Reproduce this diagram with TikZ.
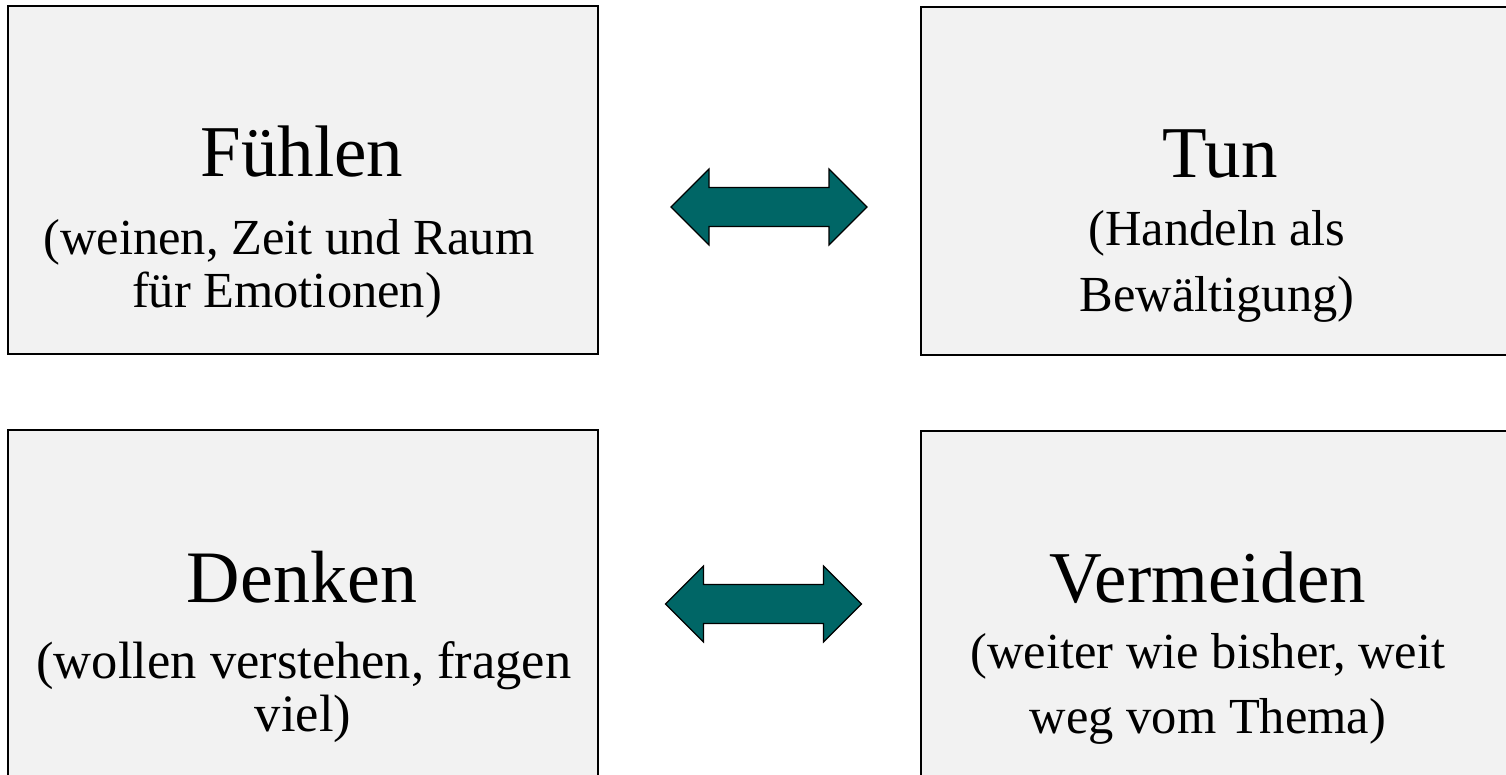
\documentclass[tikz,border=0pt]{standalone}
\usepackage{fontspec}
\setmainfont{Liberation Serif}
\definecolor{boxfill}{HTML}{F2F2F2}
\definecolor{teal6}{HTML}{006666}
\tikzset{
  box/.style={draw=black, line width=1.6pt, fill=boxfill, inner sep=0pt},
  title/.style={anchor=base, inner sep=0pt, font=\fontsize{73}{80}\selectfont},
  sub/.style={anchor=base, inner sep=0pt, font=\fontsize{50.5}{58}\selectfont},
  subwide/.style={sub, font=\fontsize{52.5}{60}\selectfont},
  blockarrow/.style={draw=black, line width=1.2pt, fill=teal6, line join=miter}
}
\newcommand\dblarrowat[1]{%
  \path[blockarrow] ([shift={(-98,0)}]#1) -- ++(38,-38) -- ++(0,18.5) -- ++(120,0)
    -- ++(0,-18.5) -- ++(38,38) -- ++(-38,38) -- ++(0,-18.5) -- ++(-120,0)
    -- ++(0,18.5) -- cycle;}
\begin{document}
\begin{tikzpicture}[x=1pt,y=-1pt]
\useasboundingbox (0,0) rectangle (1506,775);
% boxes
\node[box, minimum width=590pt, minimum height=348pt] (b1) at (303,180) {};
\node[box, minimum width=599pt, minimum height=348pt] (b2) at (1220.5,181) {};
\node[box, minimum width=590pt, minimum height=348pt] (b3) at (303,604) {};
\node[box, minimum width=599pt, minimum height=348pt] (b4) at (1220.5,605) {};
% texts
\node[title] (t1) at (302,177) {Fühlen};
\node[sub] (t1a) at (289,255) {(weinen, Zeit und Raum};
\node[sub] (t1b) at (287,308) {für Emotionen)};
\node[title] (t2) at (1220,178) {Tun};
\node[sub] (t2a) at (1217,246) {(Handeln als};
\node[sub] (t2b) at (1217,312) {Bewältigung)};
\node[title, font=\fontsize{74}{80}\selectfont] (t3) at (302,602) {Denken};
\node[subwide] (t3a) at (304,678) {(wollen verstehen, fragen};
\node[subwide] (t3b) at (303,731) {viel)};
\node[title] (t4) at (1208,602) {Vermeiden};
\node[sub] (t4a) at (1208,668) {(weiter wie bisher, weit};
\node[sub] (t4b) at (1208,733) {weg vom Thema)};
% arrows
\coordinate (a1) at (769,207);
\coordinate (a2) at (763.5,604);
\dblarrowat{a1}
\dblarrowat{a2}
\end{tikzpicture}
\end{document}
